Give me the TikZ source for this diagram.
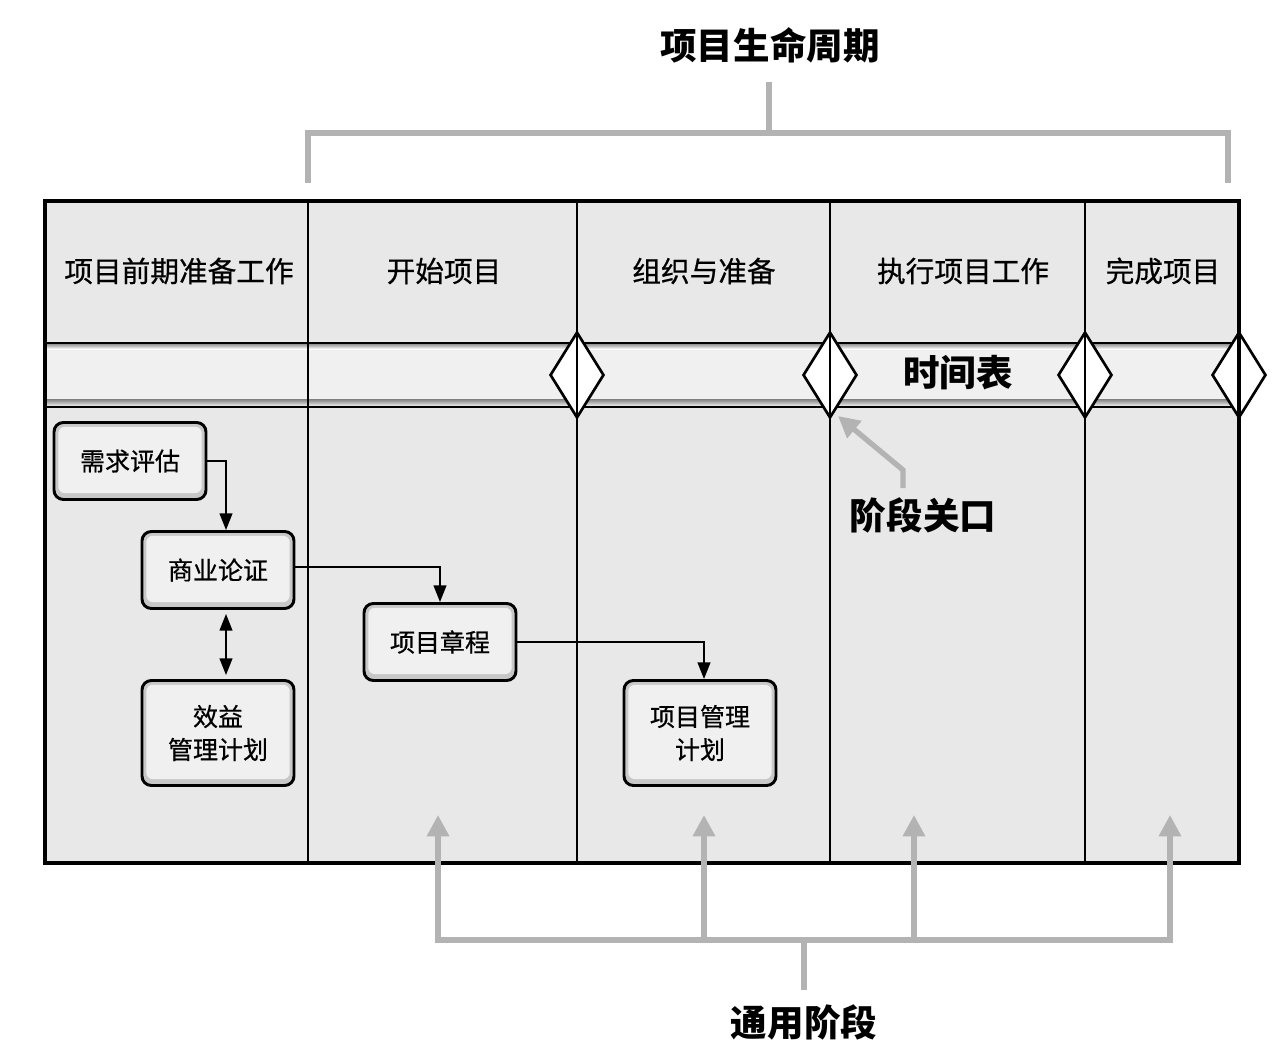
\documentclass[tikz,border=0pt]{standalone}
\usepackage{fontspec}
\setmainfont{Noto Sans CJK SC}
\newfontfamily\medfont{Noto Sans CJK SC}[FakeBold=0.6]
\usetikzlibrary{arrows.meta,shapes.geometric}
\definecolor{cellfill}{HTML}{E8E8E8}
\definecolor{stripfill}{HTML}{F0F0F0}
\definecolor{shade}{HTML}{C8C8C8}
\definecolor{boxin}{HTML}{F0F0F0}
\definecolor{brk}{HTML}{B3B3B3}
\tikzset{
  proc/.style={draw=black, line width=2.2pt, rounded corners=7pt, fill=shade,
    minimum width=114pt, minimum height=57.75pt, align=center, inner sep=0pt,
    font=\medfont\fontsize{18.75}{24.75}\selectfont,
    path picture={\fill[boxin, rounded corners=5pt]
      ([shift={(3.2pt,4.8pt)}]path picture bounding box.south west) rectangle
      ([shift={(-3.2pt,-3.2pt)}]path picture bounding box.north east);}},
  gate/.style={diamond, draw=black, fill=white, line width=2pt, aspect=0.63,
    minimum width=40.5pt, minimum height=64.5pt, inner sep=0pt},
  divider/.style={draw=black, line width=2pt},
  conn/.style={draw=black, line width=1.6pt, -{Triangle[width=9.5pt,length=12.5pt]}},
  dconn/.style={draw=black, line width=1.6pt, {Triangle[width=9.5pt,length=12.5pt]}-{Triangle[width=9.5pt,length=12.5pt]}},
  graybr/.style={draw=brk, line width=4.5pt, line join=miter},
  grayarr/.style={draw=brk, line width=4.5pt, -{Triangle[width=16pt,length=16pt]}},
  hdr/.style={font=\medfont\fontsize{21.5}{26}\selectfont},
  big/.style={font=\fontsize{27.4}{32}\selectfont\bfseries},
}
\begin{document}
\begin{tikzpicture}[x=0.75pt, y=-0.75pt]
\useasboundingbox (0,0) rectangle (1280,1062);
% frame fill
\fill[cellfill] (45,201) rectangle (1239,863);
% strip
\fill[stripfill] (45,343) rectangle (1239,407);
\fill[shade] (45,343) rectangle (1239,349);
\fill[shade] (45,399) rectangle (1239,407);
\draw[divider, line width=2.2pt] (45,343) -- (1239,343);
\draw[divider, line width=2.2pt] (45,407) -- (1239,407);
% gates
\node[gate] (g1) at (577,375) {};
\node[gate] (g2) at (830,375) {};
\node[gate] (g3) at (1085,375) {};
\node[gate] (g4) at (1239,375) {};
% dividers
\draw[divider] (308,201) -- (308,863);
\draw[divider] (577,201) -- (577,863);
\draw[divider] (830,201) -- (830,863);
\draw[divider] (1085,201) -- (1085,863);
\draw[black, line width=2.5pt] (45,201) rectangle (1239,863);
% headers
\node[hdr] (h1) at (179,271) {项目前期准备工作};
\node[hdr] (h2) at (444,271) {开始项目};
\node[hdr] (h3) at (704,271) {组织与准备};
\node[hdr] (h4) at (963,271) {执行项目工作};
\node[hdr] (h5) at (1163,271) {完成项目};
\node[big] (sched) at (958,373) {时间表};
% titles
\node[big] (life) at (770,45) {项目生命周期};
\node[big] (gatelbl) at (923,515) {阶段关口};
\node[big] (generic) at (804,1022) {通用阶段};
% top bracket
\coordinate (tl) at (308,183);
\coordinate (tr) at (1228,183);
\coordinate (tstem) at (769,82);
\draw[graybr] (tl) -- (308,133) -- (1228,133) -- (tr);
\draw[graybr] (tstem) -- (769,133);
% bottom bracket
\coordinate (a1) at (438,815);
\coordinate (a2) at (704,815);
\coordinate (a3) at (914,815);
\coordinate (a4) at (1170,815);
\coordinate (bstem) at (804,990);
\draw[graybr, {Triangle[width=16pt,length=16pt]}-{Triangle[width=16pt,length=16pt]}] (a1) -- (438,940) -- (1170,940) -- (a4);
\draw[grayarr] (704,940) -- (a2);
\draw[grayarr] (914,940) -- (a3);
\draw[graybr] (804,940) -- (bstem);
% gate arrow
\coordinate (gs) at (903,488);
\coordinate (gtip) at (838,416);
\draw[grayarr, line width=4pt] (gs) -- (903,470) -- (gtip);
% process boxes
\node[proc] (need) at (130,461) {需求评估};
\node[proc] (biz) at (218,570) {商业论证};
\node[proc, minimum height=78.75pt] (benefit) at (218,733) {效益\\管理计划};
\node[proc] (charter) at (440,642) {项目章程};
\node[proc, minimum height=78.75pt] (pmp) at (700,733) {项目管理\\计划};
% connectors
\draw[conn] (need.east) -| ([xshift=6pt]biz.north);
\draw[conn] ([yshift=2pt]biz.east) -| (charter.north);
\draw[conn] (charter.east) -| ([xshift=3pt]pmp.north);
\draw[dconn] ([xshift=6pt,yshift=-3pt]biz.south) -- ([xshift=6pt,yshift=3pt]benefit.north);
\end{tikzpicture}
\end{document}
